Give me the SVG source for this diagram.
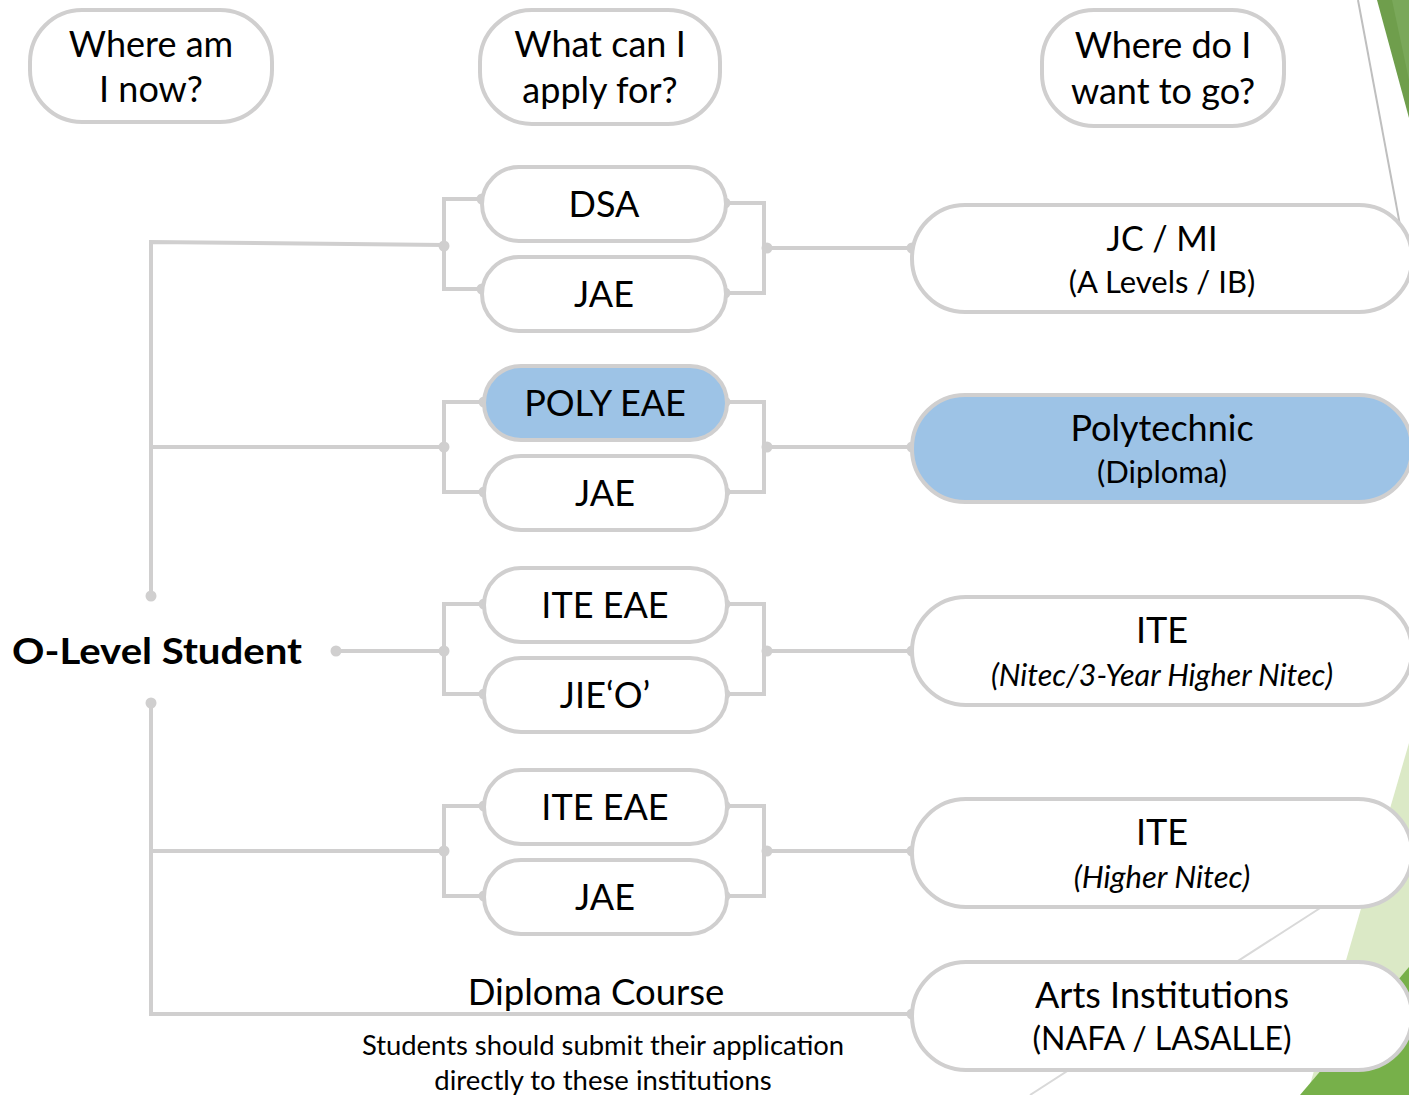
<svg xmlns="http://www.w3.org/2000/svg" width="1409" height="1095" viewBox="0 0 1409 1095">
<style>
.p{fill:#fff;stroke:#d0cfcf;stroke-width:4}
.b{fill:#9dc3e6}
.t{font-family:Lato,"Open Sans","Liberation Sans",sans-serif;fill:#000;text-anchor:middle}
.h{font-size:36px}
.m{font-size:36px}
.s{font-size:31px}
.c{fill:none;stroke:#d0cfcf;stroke-width:4}
.d{fill:#d0cfcf}
</style>
<rect width="1409" height="1095" fill="#fff"/>
<g id="decor">
<polygon points="1377,0 1409,0 1409,118" fill="#6f9e4c"/>
<polygon points="1392,0 1409,0 1409,80" fill="#7aa85a"/>
<line x1="1358" y1="0" x2="1400" y2="225" stroke="#bfbfbf" stroke-width="2"/>
<polygon points="1409,743 1409,1095 1307,1095" fill="#dbe9c6"/>
<polygon points="1409,967 1409,1095 1300,1095" fill="#77b04a"/>
<line x1="1345" y1="892" x2="1030" y2="1095" stroke="#d9d9d9" stroke-width="2"/>
</g>
<g id="connectors">
<path class="c" d="M151,596 V242 L444,245 M151,447 H444 M151,703 V1014 H912 M151,851 H444 M336,651 H444"/>
<path class="c" d="M482,199 H444 V289 H482 M725,203 H764 V293 H725 M767,248 H912"/>
<path class="c" d="M484,402 H444 V492 H484 M725,402 H764 V492 H725 M767,447 H912"/>
<path class="c" d="M484,604 H444 V694 H484 M725,604 H764 V694 H725 M767,651 H912"/>
<path class="c" d="M484,806 H444 V896 H484 M725,806 H764 V896 H725 M767,851 H912"/>
<g class="d">
<circle cx="151" cy="596" r="5.5"/><circle cx="151" cy="703" r="5.5"/><circle cx="336" cy="651" r="5.5"/>
<circle cx="444" cy="246" r="5.5"/><circle cx="444" cy="447" r="5.5"/><circle cx="444" cy="651" r="5.5"/><circle cx="444" cy="851" r="5.5"/>
<circle cx="767" cy="248" r="5.5"/><circle cx="767" cy="447" r="5.5"/><circle cx="767" cy="651" r="5.5"/><circle cx="767" cy="851" r="5.5"/>
<circle cx="482" cy="199" r="5.5"/><circle cx="482" cy="289" r="5.5"/><circle cx="725" cy="203" r="5.5"/><circle cx="725" cy="293" r="5.5"/>
<circle cx="484" cy="402" r="5.5"/><circle cx="484" cy="492" r="5.5"/><circle cx="725" cy="402" r="5.5"/><circle cx="725" cy="492" r="5.5"/>
<circle cx="484" cy="604" r="5.5"/><circle cx="484" cy="694" r="5.5"/><circle cx="725" cy="604" r="5.5"/><circle cx="725" cy="694" r="5.5"/>
<circle cx="484" cy="806" r="5.5"/><circle cx="484" cy="896" r="5.5"/><circle cx="725" cy="806" r="5.5"/><circle cx="725" cy="896" r="5.5"/>
<circle cx="912" cy="248" r="5.5"/><circle cx="912" cy="447" r="5.5"/><circle cx="912" cy="651" r="5.5"/><circle cx="912" cy="851" r="5.5"/><circle cx="912" cy="1014" r="5.5"/>
</g>
</g>
<g id="h1"><rect class="p" x="30" y="10" width="242" height="112" rx="52"/><text class="t h" x="151" y="57">Where am</text><text class="t h" x="151" y="102">I now?</text></g>
<g id="h2"><rect class="p" x="480" y="10" width="240" height="114" rx="52"/><text class="t h" x="600" y="57">What can I</text><text class="t h" x="600" y="103">apply for?</text></g>
<g id="h3"><rect class="p" x="1042" y="10" width="242" height="116" rx="52"/><text class="t h" x="1163" y="58">Where do I</text><text class="t h" x="1163" y="104">want to go?</text></g>
<g id="olevel"><text class="t" x="157" y="664" textLength="290" lengthAdjust="spacingAndGlyphs" style="font-size:36px;font-weight:bold">O-Level Student</text></g>
<g id="dsa"><rect class="p" x="482" y="167" width="244" height="74" rx="37"/><text class="t m" x="604" y="217">DSA</text></g>
<g id="jae1"><rect class="p" x="482" y="257" width="244" height="74" rx="37"/><text class="t m" x="604" y="307">JAE</text></g>
<g id="polyeae"><rect class="p b" x="484" y="366" width="243" height="74" rx="37"/><text class="t m" x="605" y="416">POLY EAE</text></g>
<g id="jae2"><rect class="p" x="484" y="456" width="243" height="74" rx="37"/><text class="t m" x="605" y="506">JAE</text></g>
<g id="iteeae1"><rect class="p" x="484" y="568" width="243" height="74" rx="37"/><text class="t m" x="605" y="618">ITE EAE</text></g>
<g id="jieo"><rect class="p" x="484" y="658" width="243" height="74" rx="37"/><text class="t m" x="605" y="708">JIE‘O’</text></g>
<g id="iteeae2"><rect class="p" x="484" y="770" width="243" height="74" rx="37"/><text class="t m" x="605" y="820">ITE EAE</text></g>
<g id="jae3"><rect class="p" x="484" y="860" width="243" height="74" rx="37"/><text class="t m" x="605" y="910">JAE</text></g>
<g id="jcmi"><rect class="p" x="912" y="205" width="500" height="107" rx="53"/><text class="t" x="1162" y="251" style="font-size:34px">JC / MI</text><text class="t s" x="1162" y="293">(A Levels / IB)</text></g>
<g id="poly"><rect class="p b" x="912" y="395" width="500" height="107" rx="53"/><text class="t m" x="1162" y="441">Polytechnic</text><text class="t s" x="1162" y="483">(Diploma)</text></g>
<g id="ite1"><rect class="p" x="912" y="597" width="500" height="108" rx="54"/><text class="t m" x="1162" y="643">ITE</text><text class="t" x="1162" y="686" font-style="italic" style="font-size:30.5px">(Nitec/3-Year Higher Nitec)</text></g>
<g id="ite2"><rect class="p" x="912" y="799" width="500" height="108" rx="54"/><text class="t m" x="1162" y="845">ITE</text><text class="t s" x="1162" y="888" font-style="italic">(Higher Nitec)</text></g>
<g id="arts"><rect class="p" x="912" y="962" width="500" height="108" rx="54"/><text class="t m" x="1162" y="1008">Arts Institutions</text><text class="t" x="1162" y="1050" style="font-size:32px">(NAFA / LASALLE)</text></g>
<g id="diploma"><text class="t" x="596" y="1005" style="font-size:36.5px">Diploma Course</text><text class="t" x="603" y="1055" style="font-size:27.4px">Students should submit their application</text><text class="t" x="603" y="1090" style="font-size:27.5px">directly to these institutions</text></g>
</svg>
